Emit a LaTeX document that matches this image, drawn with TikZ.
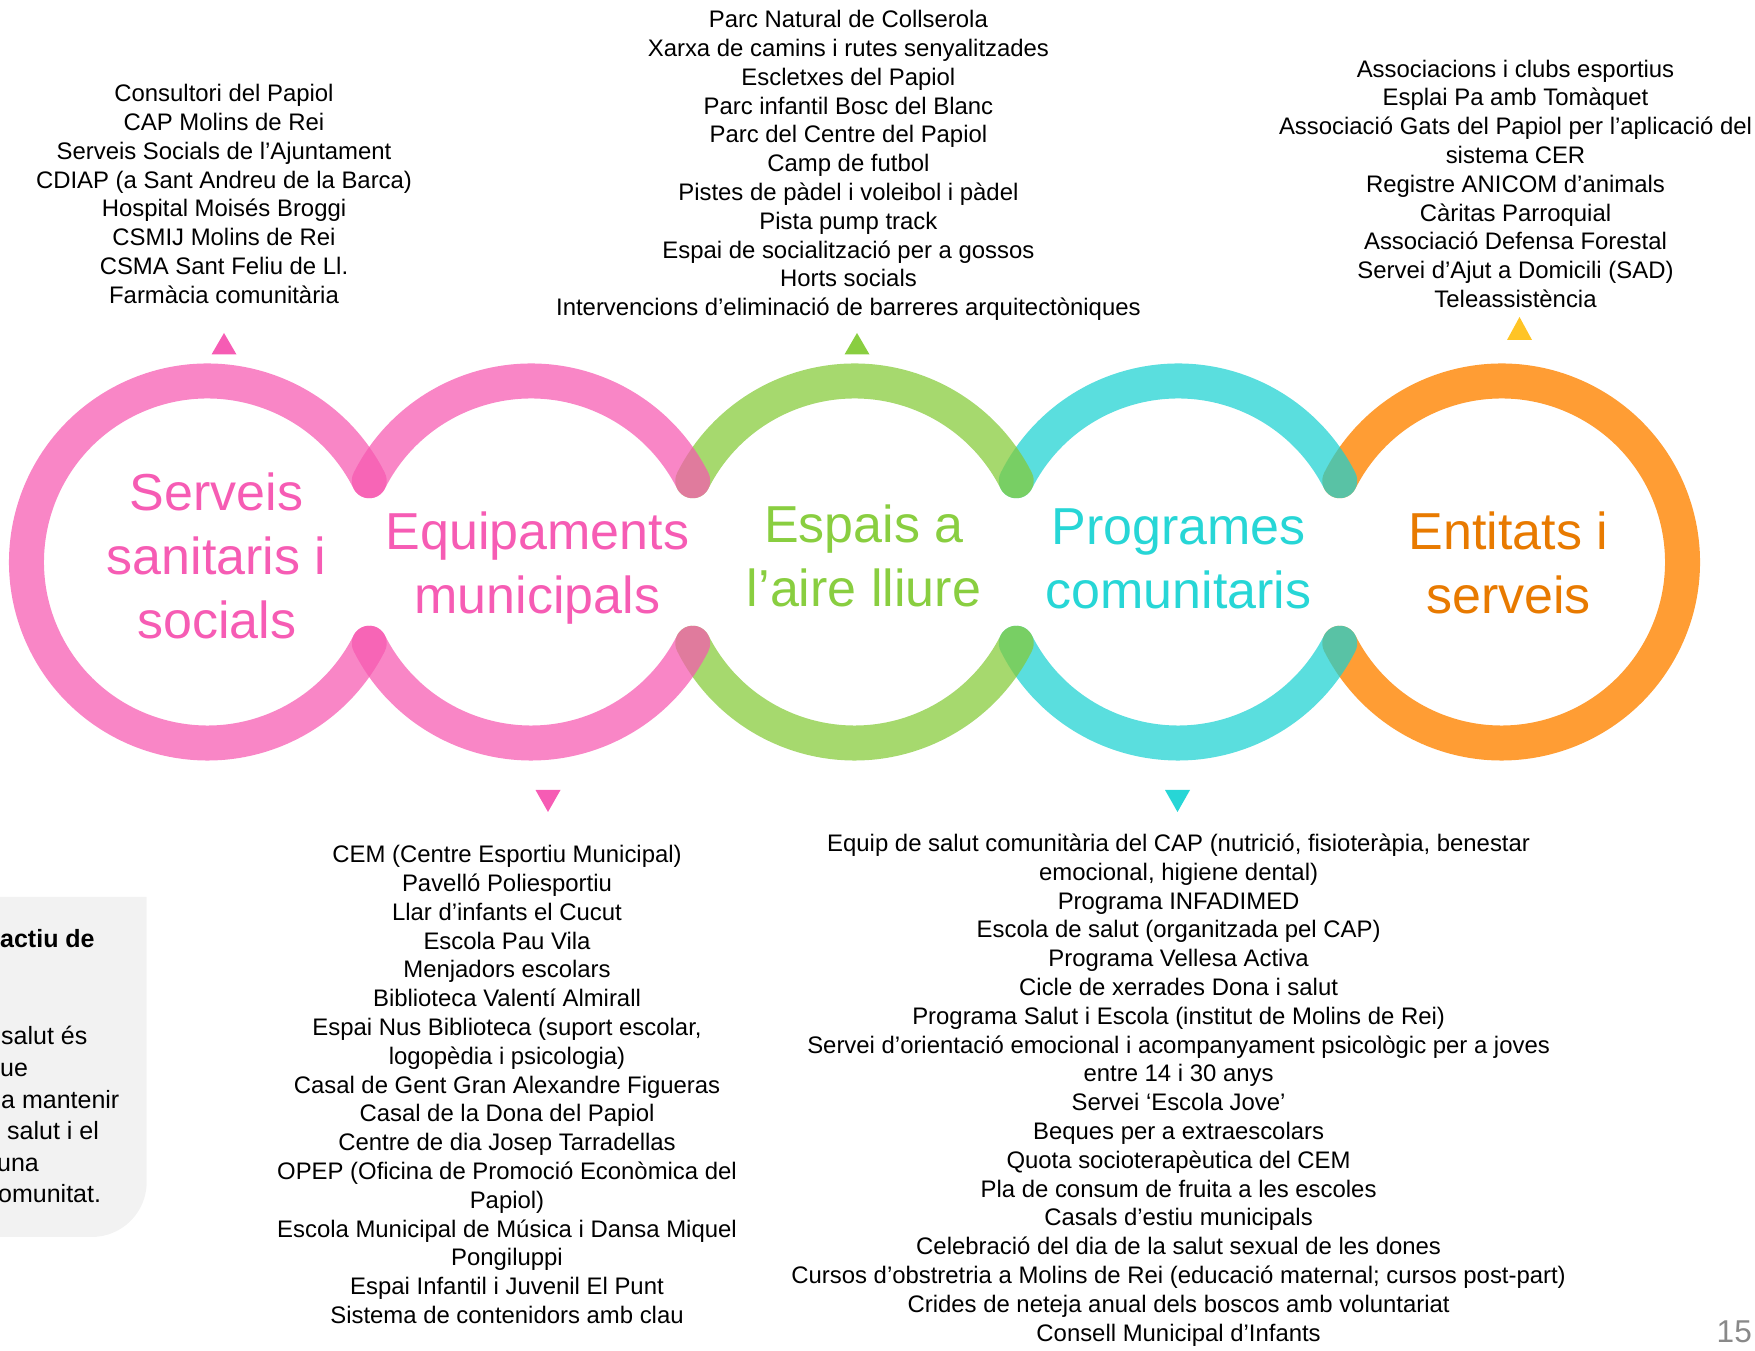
\documentclass[tikz,border=0pt]{standalone}
\usepackage{fontspec}
\setmainfont{Liberation Sans}
\usetikzlibrary{calc}
\definecolor{pinkC}{RGB}{246,88,176}
\definecolor{pinkT}{RGB}{246,92,180}
\definecolor{greenC}{RGB}{131,202,54}
\definecolor{greenT}{RGB}{137,206,64}
\definecolor{cyanC}{RGB}{26,209,209}
\definecolor{cyanT}{RGB}{39,214,214}
\definecolor{orangeC}{RGB}{255,157,52}
\definecolor{orangeT}{RGB}{232,122,0}
\definecolor{yellowT}{RGB}{255,196,37}
\definecolor{boxgray}{RGB}{242,242,242}
\definecolor{numgray}{RGB}{137,137,137}
\newcommand\mysst{\rule{0pt}{20pt}}
\newcommand\mybst{\rule{0pt}{45pt}}
\begin{document}
\begin{tikzpicture}[x=1pt,y=1pt,
  lst/.style={anchor=north, align=center, inner sep=0pt, font=\fontsize{23.9}{28.8}\selectfont},
  biglabel/.style={anchor=north, align=center, inner sep=0pt, font=\fontsize{52}{64}\selectfont},
  boxtxt/.style={anchor=base west, inner sep=0pt, font=\fontsize{25}{32}\selectfont},
  ringline/.style={line width=35pt, line cap=round},
  pinkring/.style={ringline, draw=pinkC, draw opacity=0.72},
  greenring/.style={ringline, draw=greenC, draw opacity=0.72},
  cyanring/.style={ringline, draw=cyanC, draw opacity=0.72},
  orangering/.style={ringline, draw=orangeC}
]
\useasboundingbox (0,0) rectangle (1755,1351);
\begin{scope}
\clip (0,0) rectangle (1755,1351);

% gray box (cut off on the left)
\fill[boxgray] (-20,454) -- (146.7,454) -- (146.7,169) arc[start angle=0, end angle=-90, radius=55] -- (-20,114) -- cycle;
\node[boxtxt, font=\fontsize{25}{32}\selectfont\bfseries] (b0) at (0,403.3) {actiu de};
\node[boxtxt] (b1) at (1,306) {salut és};
\node[boxtxt] (b2) at (0,274.4) {ue};
\node[boxtxt] (b3) at (1,242.8) {a mantenir};
\node[boxtxt] (b4) at (7,211.2) {salut i el};
\node[boxtxt] (b5) at (-3,179.6) {una};
\node[boxtxt] (b6) at (-2,148) {omunitat.};

% ring centres
\coordinate (c1) at (207.5,789);
\coordinate (c2) at (531,789);
\coordinate (c3) at (854.5,789);
\coordinate (c4) at (1178,789);
\coordinate (c5) at (1501.5,789);

% rings (right first, so left ones lie on top)
\draw[orangering] ($(c5)+(153.34:181)$) arc[start angle=153.34, end angle=-153.34, radius=181];
\draw[cyanring] ($(c4)+(153.34:181)$) arc[start angle=153.34, end angle=26.66, radius=181];
\draw[cyanring] ($(c4)+(206.66:181)$) arc[start angle=206.66, end angle=333.34, radius=181];
\draw[greenring] ($(c3)+(153.34:181)$) arc[start angle=153.34, end angle=26.66, radius=181];
\draw[greenring] ($(c3)+(206.66:181)$) arc[start angle=206.66, end angle=333.34, radius=181];
\draw[pinkring] ($(c2)+(153.34:181)$) arc[start angle=153.34, end angle=26.66, radius=181];
\draw[pinkring] ($(c2)+(206.66:181)$) arc[start angle=206.66, end angle=333.34, radius=181];
\draw[pinkring] ($(c1)+(26.66:181)$) arc[start angle=26.66, end angle=333.34, radius=181];

% ring labels
\node[biglabel, text=pinkT] (l1) at (216.6,886) {\mybst Serveis\\sanitaris i\\socials};
\node[biglabel, text=pinkT] (l2) at (537.3,846.7) {\mybst Equipaments\\municipals};
\node[biglabel, text=greenT] (l3) at (864,853.7) {\mybst Espais a\\l’aire lliure};
\node[biglabel, text=cyanT] (l4) at (1178.6,852) {\mybst Programes\\comunitaris};
\node[biglabel, text=orangeT] (l5) at (1508.5,846.7) {\mybst Entitats i\\serveis};

% triangles
\fill[pinkT] (211.5,996.5) -- (236.5,996.5) -- (224,1018) -- cycle;
\fill[greenT] (844.5,996.5) -- (869.5,996.5) -- (857,1018) -- cycle;
\fill[yellowT] (1507,1011) -- (1532,1011) -- (1519.5,1034) -- cycle;
\fill[pinkT] (535.5,561) -- (560.5,561) -- (548,539) -- cycle;
\fill[cyanT] (1165,561) -- (1190,561) -- (1177.5,539) -- cycle;

% lists
\node[lst] (t1) at (224,1269.5) {\mysst Consultori del Papiol\\CAP Molins de Rei\\Serveis Socials de l’Ajuntament\\CDIAP (a Sant Andreu de la Barca)\\Hospital Moisés Broggi\\CSMIJ Molins de Rei\\CSMA Sant Feliu de Ll.\\Farmàcia comunitària};

\node[lst] (t2) at (848.4,1343.4) {\mysst Parc Natural de Collserola\\Xarxa de camins i rutes senyalitzades\\Escletxes del Papiol\\Parc infantil Bosc del Blanc\\Parc del Centre del Papiol\\Camp de futbol\\Pistes de pàdel i voleibol i pàdel\\Pista pump track\\Espai de socialització per a gossos\\Horts socials\\Intervencions d’eliminació de barreres arquitectòniques};

\node[lst] (t3) at (1515.5,1294.1) {\mysst Associacions i clubs esportius\\Esplai Pa amb Tomàquet\\Associació Gats del Papiol per l’aplicació del\\sistema CER\\Registre ANICOM d’animals\\Càritas Parroquial\\Associació Defensa Forestal\\Servei d’Ajut a Domicili (SAD)\\Teleassistència};

\node[lst] (t4) at (507,508.4) {\mysst CEM (Centre Esportiu Municipal)\\Pavelló Poliesportiu\\Llar d’infants el Cucut\\Escola Pau Vila\\Menjadors escolars\\Biblioteca Valentí Almirall\\Espai Nus Biblioteca (suport escolar,\\logopèdia i psicologia)\\Casal de Gent Gran Alexandre Figueras\\Casal de la Dona del Papiol\\Centre de dia Josep Tarradellas\\OPEP (Oficina de Promoció Econòmica del\\Papiol)\\Escola Municipal de Música i Dansa Miquel\\Pongiluppi\\Espai Infantil i Juvenil El Punt\\Sistema de contenidors amb clau};

\node[lst] (t5) at (1178.6,519.6) {\mysst Equip de salut comunitària del CAP (nutrició, fisioteràpia, benestar\\emocional, higiene dental)\\Programa INFADIMED\\Escola de salut (organitzada pel CAP)\\Programa Vellesa Activa\\Cicle de xerrades Dona i salut\\Programa Salut i Escola (institut de Molins de Rei)\\Servei d’orientació emocional i acompanyament psicològic per a joves\\entre 14 i 30 anys\\Servei ‘Escola Jove’\\Beques per a extraescolars\\Quota socioterapèutica del CEM\\Pla de consum de fruita a les escoles\\Casals d’estiu municipals\\Celebració del dia de la salut sexual de les dones\\Cursos d’obstretria a Molins de Rei (educació maternal; cursos post-part)\\Crides de neteja anual dels boscos amb voluntariat\\Consell Municipal d’Infants};

% page number
\node[anchor=base west, inner sep=0pt, text=numgray, font=\fontsize{31.6}{38}\selectfont] (pg) at (1716.5,8) {15};
\end{scope}
\end{tikzpicture}
\end{document}
